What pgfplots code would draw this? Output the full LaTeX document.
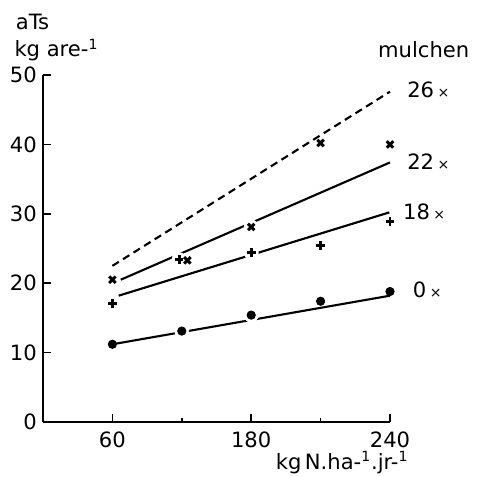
\documentclass[border=0pt]{standalone}
\usepackage{pgfplots}
\pgfplotsset{compat=1.18}
\usetikzlibrary{calc}
\usepackage{fontspec}
\setmainfont{DejaVu Sans}
\newcommand{\lbl}{\fontsize{12}{14}\selectfont}
\newcommand{\xs}{\,{\fontsize{8}{9}\selectfont ×}}

\begin{document}
\begin{tikzpicture}
\begin{axis}[
  name=ax,
  width=6.94cm, height=6.94cm, scale only axis,
  xmin=-1, xmax=4, ymin=0, ymax=50,
  axis lines=left,
  axis line style={-, line width=1pt},
  clip=false,
  tick align=inside,
  major tick length=0.15cm, minor tick length=0.08cm,
  tick style={line width=1pt, black},
  xtick={0,2,4}, xticklabels={60,180,240},
  minor xtick={1,3},
  ytick={0,10,...,50},
  xticklabel style={yshift=-0.08cm},
  every tick label/.append style={font=\lbl},
  /pgf/number format/assume math mode=true,
]
  % regression lines
  \addplot[black, line width=1.2pt] coordinates {(0,11.2) (4,18.2)};
  \addplot[black, line width=1.2pt] coordinates {(0.09,18.2) (3.99,30.2)};
  \addplot[black, line width=1.2pt] coordinates {(0.12,20.5) (4.0,37.4)};
  \addplot[black, line width=1.2pt, dash pattern=on 4.3pt off 2.8pt] coordinates {(0,22.5) (4.0,47.6)};
  % white halos where the lines break at the marks
  \addplot[only marks, mark=*, white, mark size=4pt] coordinates {
    (1,13.1) (2,15.4) (0.96,23.4) (1.08,23.3) (2,28.1) (2,24.4)};
  % 0 x mulchen
  \addplot[only marks, mark=*, black, mark size=2.4pt] coordinates {
    (0,11.2) (1,13.1) (2,15.4) (3,17.4) (4,18.8)};
  % 18 x mulchen
  \addplot[only marks, mark=+, black, mark size=2.5pt, line width=1.7pt] coordinates {
    (0,17.1) (0.96,23.4) (2,24.4) (3,25.4) (4,28.9)};
  % 22 / 26 x mulchen
  \addplot[only marks, mark=x, black, mark size=2.6pt, line width=1.7pt] coordinates {
    (0,20.5) (1.08,23.3) (2,28.1) (3,40.2) (4,40.0)};

  \node[anchor=west, font=\lbl] at (axis cs:-1.48,57.6) {aTs};
  \node[anchor=west, font=\lbl] at (axis cs:-1.50,53.6) {kg are-\textsuperscript{1}};
  \node[anchor=west, font=\lbl] at (axis cs:3.74,53.6) {mulchen};
  \node[anchor=west, font=\lbl] at (axis cs:4.16,47.8) {26\xs};
  \node[anchor=west, font=\lbl] at (axis cs:4.16,37.5) {22\xs};
  \node[anchor=west, font=\lbl] at (axis cs:4.10,30.3) {18\xs};
  \node[anchor=west, font=\lbl] at (axis cs:4.24,19.0) {0\xs};
  \node[font=\lbl] at (axis cs:3.31,-5.8) {kg\,N.ha-\textsuperscript{1}.jr-\textsuperscript{1}};
\end{axis}
\pgfresetboundingbox
\path[use as bounding box] ($(ax.south west)+(-0.86cm,-1.1cm)$) rectangle ($(ax.north east)+(1.74cm,1.5cm)$);
\end{tikzpicture}
\end{document}
